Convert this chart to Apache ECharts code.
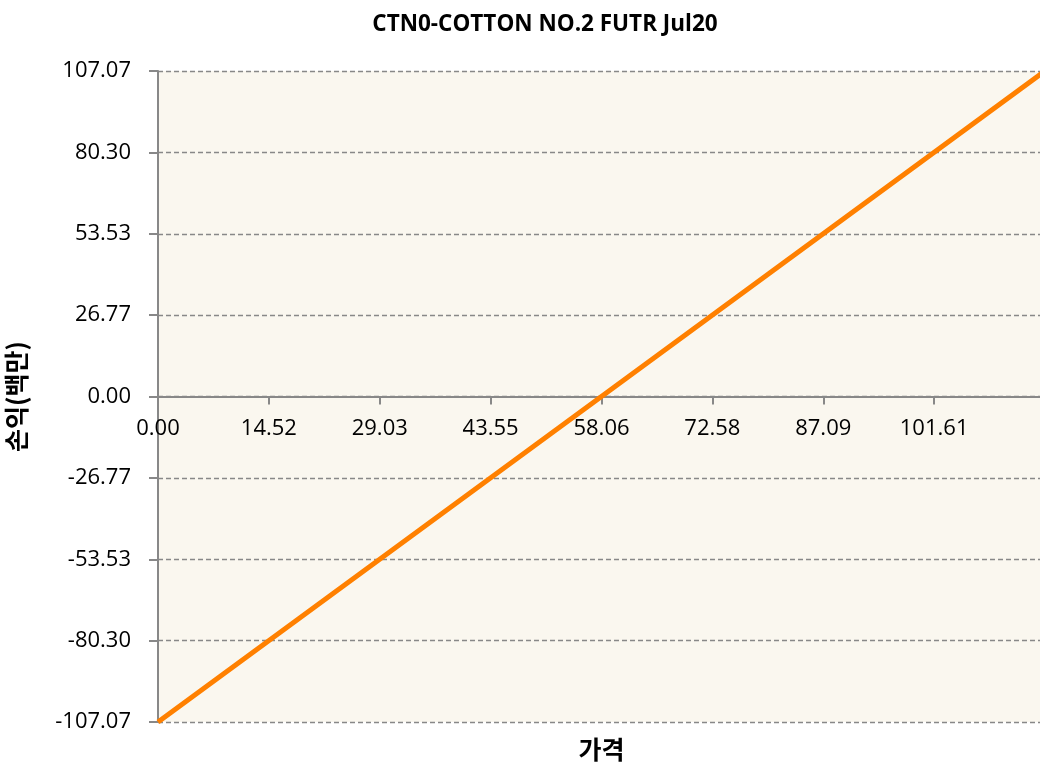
<!DOCTYPE html>
<html>
<head>
<meta charset="utf-8">
<script src="https://cdn.jsdelivr.net/npm/echarts@6/dist/echarts.min.js"></script>
<style>
html,body{margin:0;padding:0;background:#fff;}
#chart{width:1040px;height:774px;}
</style>
</head>
<body>
<div id="chart"></div>
<script>
var titleText = 'CTN0-COTTON NO.2 FUTR Jul20';
var xName = '가격';
var yName = '손익(백만)';
var prices = [0, 58.06, 116.13];
var pnl = [-107.07, 0, 107.07];
var xTickLabels = ['0.00', '14.52', '29.03', '43.55', '58.06', '72.58', '87.09', '101.61', '116.13'];
var yTickLabels = ['-107.07', '-80.30', '-53.53', '-26.77', '0.00', '26.77', '53.53', '80.30', '107.07'];
var xMin = 0, xMax = 116.13, yMin = -107.07, yMax = 107.07;

var chart = echarts.init(document.getElementById('chart'));
var xStep = (xMax - xMin) / 8, yStep = (yMax - yMin) / 8;
var numFont = '"Open Sans", sans-serif';
var krFont = '"Noto Sans CJK KR", sans-serif';
var gridTop = 71, gridH = 651;
chart.setOption({
  animation: false,
  title: {
    text: titleText, left: 540, top: 8, textAlign: 'center',
    textStyle: {fontFamily: numFont, fontWeight: 'bold', fontSize: 22.5, color: '#000'}
  },
  grid: {
    left: 158, top: gridTop, width: 887, height: gridH,
    outerBoundsMode: 'none', containLabel: false,
    show: true, backgroundColor: '#FAF7EF', borderWidth: 0
  },
  xAxis: {
    type: 'value', min: xMin, max: xMax, interval: xStep,
    offset: -gridH / 2,
    name: xName, nameLocation: 'middle', nameGap: 340,
    nameTextStyle: {fontFamily: krFont, fontWeight: 'bold', fontSize: 25, color: '#000'},
    axisLine: {show: true, onZero: false, lineStyle: {color: '#888', width: 2}},
    axisTick: {show: true, length: 8, lineStyle: {color: '#888', width: 2}},
    axisLabel: {
      margin: 21, fontFamily: numFont, fontSize: 22, color: '#000', showMaxLabel: false,
      formatter: function (v) { return xTickLabels[Math.round((v - xMin) / xStep)]; }
    },
    splitLine: {show: false}
  },
  yAxis: {
    type: 'value', min: yMin, max: yMax, interval: yStep,
    name: yName, nameLocation: 'middle', nameGap: 129, nameRotate: 90,
    nameTextStyle: {fontFamily: krFont, fontWeight: 'bold', fontSize: 25, color: '#000'},
    axisLine: {show: true, lineStyle: {color: '#888', width: 2}},
    axisTick: {show: true, length: 9, lineStyle: {color: '#888', width: 2}},
    axisLabel: {
      margin: 27, fontFamily: numFont, fontSize: 22, color: '#000',
      formatter: function (v) { return yTickLabels[Math.round((v - yMin) / yStep)]; }
    },
    splitLine: {show: true, lineStyle: {color: '#888', width: 1.3, type: [5, 3]}}
  },
  series: [{
    type: 'line',
    data: prices.map(function (p, i) { return [p, pnl[i]]; }),
    showSymbol: false,
    lineStyle: {color: '#FF8000', width: 5},
    itemStyle: {color: '#FF8000'}
  }]
});
</script>
</body>
</html>
